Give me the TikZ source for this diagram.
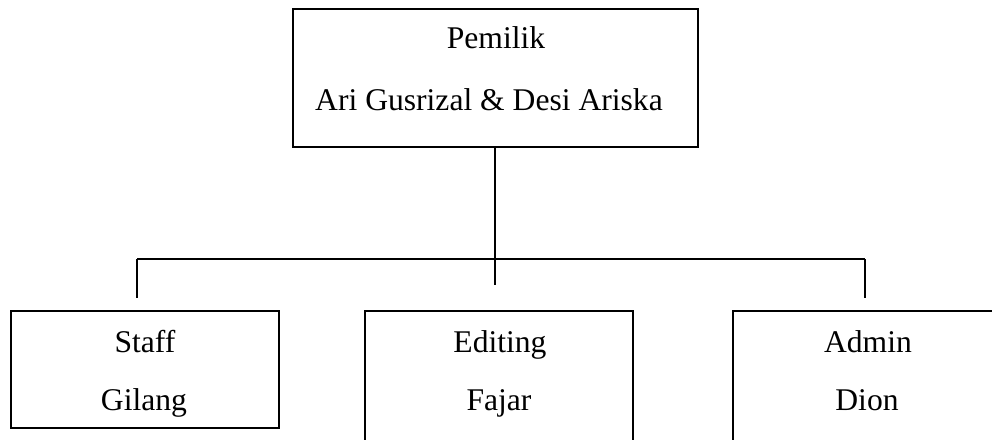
\documentclass[tikz,border=0pt]{standalone}
\usepackage{fontspec}
\setmainfont{Liberation Serif}
\tikzset{
  box/.style={draw, line width=1.3pt, rectangle, inner sep=0pt},
  lbl/.style={anchor=base, inner sep=0pt, font=\fontsize{23.7}{28}\selectfont},
  conn/.style={line width=1.3pt}
}
\begin{document}
\begin{tikzpicture}[x=0.75pt, y=-0.75pt]
\useasboundingbox (0,0) rectangle (992,439);
\clip (0,0) rectangle (992,439);
% boxes
\node[box, minimum width=303.75pt, minimum height=103.5pt] (top) at (495.5,78) {};
\node[box, minimum width=201pt, minimum height=87.75pt] (staff) at (145,369.5) {};
\node[box, minimum width=201pt, minimum height=105pt] (edit) at (499,381) {};
\node[box, minimum width=201pt, minimum height=105pt] (admin) at (867,381) {};
% labels
\node[lbl] (t1) at (496,48) {Pemilik};
\node[lbl] (t2) at (489,110) {Ari Gusrizal \& Desi Ariska};
\node[lbl] (s1) at (145,352) {Staff};
\node[lbl] (s2) at (144,410) {Gilang};
\node[lbl] (e1) at (500,352) {Editing};
\node[lbl] (e2) at (499,410) {Fajar};
\node[lbl] (a1) at (868,352) {Admin};
\node[lbl] (a2) at (867,410) {Dion};
% connectors
\coordinate (j) at (495,259);
\coordinate (jl) at (137,259);
\coordinate (jr) at (865,259);
\coordinate (sl) at (137,298);
\coordinate (sm) at (495,285);
\coordinate (sr) at (865,298);
\draw[conn] (top.south -| j) -- (j);
\draw[conn] (jl) -- (jr);
\draw[conn] (jl) -- (sl);
\draw[conn] (j) -- (sm);
\draw[conn] (jr) -- (sr);
\end{tikzpicture}
\end{document}
